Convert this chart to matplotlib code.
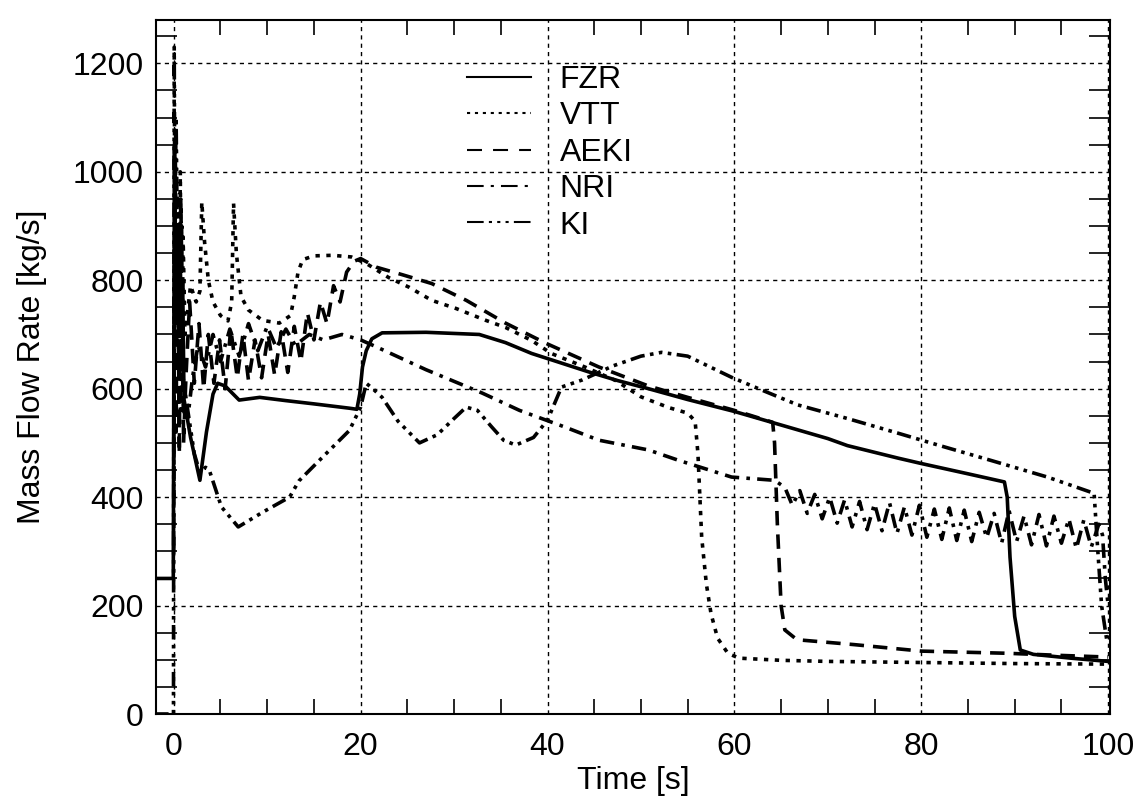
import matplotlib
matplotlib.use("Agg")
import matplotlib.pyplot as plt
from matplotlib.lines import Line2D
from matplotlib.ticker import MultipleLocator

plt.rcParams["font.family"] = ["Liberation Sans", "DejaVu Sans"]

# ---- data (time [s], mass flow rate [kg/s]) ----
fzr_t = [-2.1, -0.05, 0.0, 0.08, 0.2, 0.35, 0.5, 0.65, 0.8, 0.95, 1.1, 1.8, 2.8, 3.5,
         4.2, 4.7, 5.5, 7.0, 9.2, 12.0, 15.0, 18.8, 19.6, 19.9, 20.2, 20.6, 21.2,
         22.3, 27.0, 32.7, 35.5, 38.3, 41.0, 44.4, 47.5, 50.8, 55.0, 60.0, 65.0,
         70.0, 72.1, 77.5, 80.0, 85.0, 88.9, 89.2, 89.5, 90.0, 90.6, 92.0, 96.0,
         100.0]
fzr_v = [250, 250, 600, 1050, 720, 900, 760, 880, 700, 800, 580, 510, 431, 520,
         590, 610, 605, 579, 584, 578, 572, 564, 562, 590, 640, 670, 692,
         703, 704, 700, 685, 665, 650, 631, 615, 600, 580, 558, 533,
         508, 495, 472, 462, 443, 428, 400, 289, 180, 118, 110, 103,
         97]

vtt_t = [0.0, 0.1, 0.25, 0.4, 0.55, 0.7, 0.85, 1.0, 1.2, 1.8, 2.4, 2.8, 3.0, 3.3,
         3.7, 4.2, 5.0, 5.8, 6.2, 6.4, 6.7, 7.2, 8.0, 9.5, 11.3, 12.5, 12.9, 13.3,
         13.8, 15.0, 17.0, 19.0, 20.6, 23.0, 25.2, 27.6, 30.2, 33.4, 35.5, 38.3,
         40.4, 44.0, 47.3, 50.0, 53.0, 55.0, 55.8, 56.1, 56.5, 57.0, 57.5, 58.2,
         59.3, 60.5, 65.0, 70.0, 80.0, 90.0, 100.0]
vtt_v = [400, 960, 780, 900, 620, 1000, 560, 880, 700, 790, 760, 780, 944, 870,
         800, 760, 735, 725, 760, 942, 850, 770, 745, 726, 721, 735, 770, 815,
         838, 845, 846, 843, 831, 805, 787, 763, 748, 726, 713, 689,
         665, 640, 615, 585, 565, 555, 540, 480, 326, 240, 185, 140,
         112, 103, 99, 97, 95, 93, 92]

aeki_t = [0.0, 0.1, 0.25, 0.4, 0.6, 0.75, 0.9, 1.05, 1.3, 1.7, 2.2, 2.7, 3.2, 3.7,
          4.3, 4.9, 5.5, 6.1, 6.8, 7.4, 8.0, 8.7, 9.4, 10.1, 10.8, 11.5, 12.2,
          12.9, 13.6, 14.3, 15.0, 15.7, 16.4, 17.1, 17.8, 18.5, 19.3, 20.0, 21.7,
          24.5, 27.6, 31.3, 35.5, 39.8, 45.5, 50.8, 55.0, 60.0, 64.1, 64.3, 64.6,
          65.0, 65.4, 66.7, 72.8, 80.0, 89.2, 95.0, 100.0]
aeki_v = [300, 1000, 520, 900, 480, 950, 780, 500, 620, 760, 610, 720, 600, 700,
          610, 690, 600, 710, 620, 700, 615, 690, 620, 700, 625, 705, 630,
          715, 650, 740, 690, 760, 720, 790, 760, 815, 835, 840, 824,
          810, 794, 763, 721, 684, 640, 605, 584, 560, 538, 500, 350,
          200, 155, 137, 128, 116, 112, 108, 105]

nri_t = [0.0, 0.15, 0.3, 0.5, 0.7, 0.85, 1.0, 1.5, 2.0, 2.6, 3.4, 4.2, 5.0, 6.0,
         7.0, 8.0, 9.0, 10.0, 11.0, 12.0, 13.0, 14.5, 16.0, 18.0, 20.0, 21.7,
         27.0, 33.0, 37.0, 41.9, 45.5, 50.8, 54.0, 59.7, 64.3, 65.4, 66.2, 67.0,
         67.8, 68.6, 69.4, 70.2, 71.0, 71.8, 72.6, 73.4, 74.2, 75.0, 75.8, 76.6,
         77.4, 78.2, 79.0, 79.8, 80.6, 81.4, 82.2, 83.0, 83.8, 84.6, 85.4, 86.2,
         87.0, 87.8, 88.6, 89.4, 90.2, 91.0, 91.8, 92.6, 93.4, 94.2, 95.0, 95.8,
         96.6, 97.4, 98.2, 99.0, 99.4, 99.7, 100.0]
nri_v = [500, 1060, 800, 950, 560, 900, 560, 545, 620, 680, 640, 700, 650, 710,
         660, 720, 670, 715, 675, 710, 680, 700, 690, 700, 690, 677,
         635, 592, 560, 529, 505, 487, 468, 437, 431, 418, 385, 412,
         370, 405, 360, 400, 352, 395, 345, 392, 340, 388, 338, 390,
         333, 382, 330, 385, 326, 378, 322, 380, 320, 376, 318, 372,
         325, 370, 315, 375, 318, 365, 312, 368, 310, 365, 315, 360,
         305, 358, 308, 350, 330, 250, 200]

ki_t = [-2.1, -0.03, 0.0, 0.05, 0.12, 0.25, 0.4, 0.6, 0.8, 1.0, 1.5, 2.2, 2.8, 3.4,
        3.8, 5.1, 6.9, 9.5, 12.4, 13.4, 16.0, 18.8, 20.0, 20.6, 21.3, 22.3, 24.0,
        26.3, 28.2, 30.0, 31.3, 32.5, 34.0, 35.3, 36.6, 38.5, 40.0, 41.5, 43.7,
        47.0, 50.0, 52.2, 55.0, 59.7, 63.0, 66.8, 72.1, 77.5, 82.0, 87.4, 93.5,
        98.5, 98.9, 99.3, 99.9]
ki_v = [0, 0, 500, 1230, 900, 1100, 850, 900, 700, 620, 560, 480, 445, 455,
        450, 382, 345, 372, 400, 430, 475, 523, 566, 610, 600, 584, 540,
        500, 515, 545, 566, 560, 530, 505, 496, 510, 542, 603, 616,
        642, 660, 667, 660, 621, 597, 570, 545, 518, 495, 468, 437,
        407, 300, 200, 131]

labels = ["FZR", "VTT", "AEKI", "NRI", "KI"]
series = [(fzr_t, fzr_v), (vtt_t, vtt_v), (aeki_t, aeki_v), (nri_t, nri_v), (ki_t, ki_v)]

# IDL-like linestyles: solid, dotted, dashed, dash-dot, dash-dot-dot-dot
styles = ["-", (0, (1.2, 1.8)), (0, (4, 2.5)), (0, (4, 2, 1, 2)),
          (0, (4, 1.5, 1, 1.5, 1, 1.5, 1, 1.5))]
legend_styles = ["-", (0, (1.5, 2.3)), (0, (7.2, 5.3)), (0, (8, 3.4, 1.5, 3.4)),
                 (0, (8, 2.5, 1.5, 2.5, 1.5, 2.5, 1.5, 2.5))]

FS = 23

fig = plt.figure(figsize=(11.47, 8.10), dpi=100)
ax = fig.add_axes([156 / 1147, 1 - 714 / 810, 954 / 1147, 694 / 810])

for (t, v), ls in zip(series, styles):
    ax.plot(t, v, color="black", lw=2.6, linestyle=ls)

ax.set_xlim(-1.9, 100.2)
ax.set_ylim(0, 1280)

ax.xaxis.set_major_locator(MultipleLocator(20))
ax.xaxis.set_minor_locator(MultipleLocator(5))
ax.yaxis.set_major_locator(MultipleLocator(200))
ax.yaxis.set_minor_locator(MultipleLocator(50))
ax.tick_params(which="both", direction="in", top=True, right=True, width=1.2)
ax.tick_params(which="major", length=0)
ax.tick_params(axis="x", which="minor", length=11)
ax.tick_params(axis="y", which="minor", length=15)
ax.tick_params(axis="x", which="major", pad=13, labelsize=FS)
ax.tick_params(axis="y", which="major", pad=9, labelsize=FS)
ax.grid(True, which="major", color="black", lw=1.0, linestyle=(0, (3, 3)))
for sp in ax.spines.values():
    sp.set_linewidth(1.5)

ax.set_xlabel("Time [s]", fontsize=FS)
ax.set_ylabel("Mass Flow Rate [kg/s]", fontsize=FS)
ax.xaxis.set_label_coords(0.5, -0.075)
ax.yaxis.set_label_coords(-0.114, 0.5)

handles = [Line2D([], [], color="black", lw=1.5, linestyle=ls) for ls in legend_styles]
ax.legend(handles, labels, loc="upper left", bbox_to_anchor=(0.326, 0.935),
          frameon=False, fontsize=FS, handlelength=2.0, handletextpad=0.9,
          labelspacing=0.2, borderaxespad=0, borderpad=0)

fig.savefig("out.png", dpi=100)
